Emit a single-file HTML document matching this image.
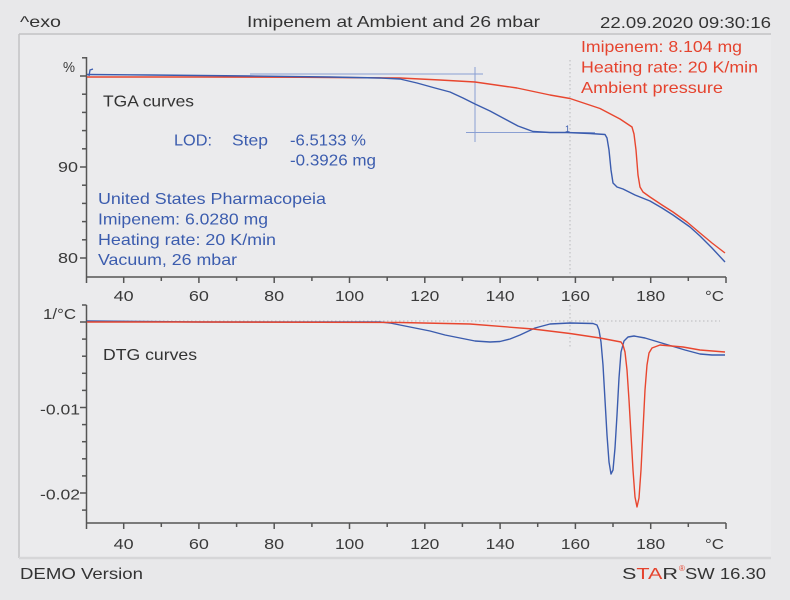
<!DOCTYPE html>
<html><head><meta charset="utf-8"><style>
html,body{margin:0;padding:0;background:#e8e8ea;}
svg{display:block;}
text{font-family:"Liberation Sans",Arial,sans-serif;}
</style></head><body>
<svg width="790" height="600" viewBox="0 0 790 600" xmlns="http://www.w3.org/2000/svg">
<rect x="0" y="0" width="790" height="600" fill="#e8e8ea"/>
<rect x="19" y="34" width="752" height="524" fill="#ebebed"/>
<!-- frame -->
<line x1="19" y1="34" x2="771" y2="34" stroke="#c2c2c4" stroke-width="1.5"/>
<line x1="19" y1="34" x2="19" y2="558" stroke="#c2c2c4" stroke-width="1.5"/>
<line x1="19" y1="558" x2="771" y2="558" stroke="#d6d6d8" stroke-width="2.5"/>

<!-- header -->
<g fill="#333" font-size="16">
<text x="20" y="27" textLength="41" lengthAdjust="spacingAndGlyphs">^exo</text>
<text x="247" y="27" textLength="293" lengthAdjust="spacingAndGlyphs">Imipenem at Ambient and 26 mbar</text>
<text x="600" y="28" textLength="171" lengthAdjust="spacingAndGlyphs">22.09.2020 09:30:16</text>
<text x="20" y="579" textLength="123" lengthAdjust="spacingAndGlyphs">DEMO Version</text>
</g>
<g font-size="16">
<text x="622" y="579" fill="#333" textLength="56" lengthAdjust="spacingAndGlyphs"><tspan>S</tspan><tspan fill="#e5432e">TA</tspan><tspan>R</tspan></text>
<text x="679" y="571" fill="#e5432e" font-size="8">®</text>
<text x="685" y="579" fill="#333" textLength="81" lengthAdjust="spacingAndGlyphs">SW 16.30</text>
</g>

<!-- ===== TGA axes ===== -->
<g stroke="#555" stroke-width="1.5" fill="none">
<line x1="86.5" y1="57" x2="86.5" y2="283"/>
<line x1="86.5" y1="277" x2="726" y2="277"/>
<line x1="82" y1="57.8" x2="86.5" y2="57.8"/>
<line x1="80" y1="76" x2="86.5" y2="76"/>
<line x1="82" y1="94.2" x2="86.5" y2="94.2"/>
<line x1="82" y1="112.4" x2="86.5" y2="112.4"/>
<line x1="82" y1="130.6" x2="86.5" y2="130.6"/>
<line x1="82" y1="148.8" x2="86.5" y2="148.8"/>
<line x1="80" y1="167" x2="86.5" y2="167"/>
<line x1="82" y1="185.2" x2="86.5" y2="185.2"/>
<line x1="82" y1="203.4" x2="86.5" y2="203.4"/>
<line x1="82" y1="221.6" x2="86.5" y2="221.6"/>
<line x1="82" y1="239.8" x2="86.5" y2="239.8"/>
<line x1="80" y1="258" x2="86.5" y2="258"/>
<line x1="123.7" y1="277" x2="123.7" y2="283"/>
<line x1="161.3" y1="277" x2="161.3" y2="281"/>
<line x1="198.9" y1="277" x2="198.9" y2="283"/>
<line x1="236.6" y1="277" x2="236.6" y2="281"/>
<line x1="274.2" y1="277" x2="274.2" y2="283"/>
<line x1="311.9" y1="277" x2="311.9" y2="281"/>
<line x1="349.5" y1="277" x2="349.5" y2="283"/>
<line x1="387.2" y1="277" x2="387.2" y2="281"/>
<line x1="424.8" y1="277" x2="424.8" y2="283"/>
<line x1="462.4" y1="277" x2="462.4" y2="281"/>
<line x1="500.1" y1="277" x2="500.1" y2="283"/>
<line x1="537.7" y1="277" x2="537.7" y2="281"/>
<line x1="575.4" y1="277" x2="575.4" y2="283"/>
<line x1="613" y1="277" x2="613" y2="281"/>
<line x1="650.7" y1="277" x2="650.7" y2="283"/>
<line x1="688.3" y1="277" x2="688.3" y2="281"/>
<line x1="726" y1="277" x2="726" y2="283"/>
</g>
<g fill="#3a3a3a" font-size="15">
<text x="63" y="72" textLength="12" lengthAdjust="spacingAndGlyphs">%</text>
<text x="78" y="172" text-anchor="end" textLength="20" lengthAdjust="spacingAndGlyphs">90</text>
<text x="78" y="263" text-anchor="end" textLength="20" lengthAdjust="spacingAndGlyphs">80</text>
<text x="113.7" y="301" textLength="20" lengthAdjust="spacingAndGlyphs">40</text>
<text x="188.9" y="301" textLength="20" lengthAdjust="spacingAndGlyphs">60</text>
<text x="264.2" y="301" textLength="20" lengthAdjust="spacingAndGlyphs">80</text>
<text x="335" y="301" textLength="29" lengthAdjust="spacingAndGlyphs">100</text>
<text x="410.3" y="301" textLength="29" lengthAdjust="spacingAndGlyphs">120</text>
<text x="485.6" y="301" textLength="29" lengthAdjust="spacingAndGlyphs">140</text>
<text x="560.9" y="301" textLength="29" lengthAdjust="spacingAndGlyphs">160</text>
<text x="636.2" y="301" textLength="29" lengthAdjust="spacingAndGlyphs">180</text>
<text x="705" y="301" textLength="19" lengthAdjust="spacingAndGlyphs">°C</text>
</g>
<text x="103" y="106.5" fill="#333" font-size="16" textLength="91" lengthAdjust="spacingAndGlyphs">TGA curves</text>

<!-- TGA dotted + LOD construction -->
<line x1="570" y1="60" x2="570" y2="276" stroke="#b8b8bc" stroke-width="1" stroke-dasharray="1.5,2.5"/>
<g stroke="#8a9fd2" stroke-width="1" fill="none">
<line x1="250" y1="74" x2="483" y2="74"/>
<line x1="475" y1="67" x2="475" y2="142"/>
<line x1="466" y1="132.5" x2="595" y2="132.5"/>
</g>
<text x="565" y="132" fill="#3b5cae" font-size="9">1</text>

<!-- TGA curves -->
<polyline fill="none" stroke="#e8462f" stroke-width="1.4" stroke-linejoin="round" points="87,77 200,77 300,77.3 400,78 440,80 475,82 517,88 550,95 570,98.5 600,108.5 620,119 632,127 634,134 636,150 638,175 640,187 643,192 650,197 662,205 673,212 687,222 700,233 712,243 725,253"/>
<polyline fill="none" stroke="#3b5cae" stroke-width="1.4" stroke-linejoin="round" points="87,74.5 150,75 250,76 330,77 380,78 400,79 417,83 435,88 450,92 463,98 475,104 490,111 503,118 518,126 533,131.5 550,132.5 567,132.5 590,133.5 605,134.5 607,138 609,150 611,170 613,183 617,187 623,189 635,195 650,201 662,208 673,215 690,227 700,236 712,248 725,262"/>
<path d="M89,76 L90,70 L93,69" fill="none" stroke="#3b5cae" stroke-width="1.3"/>

<!-- annotations -->
<g fill="#e5432e" font-size="16">
<text x="581" y="52" textLength="161" lengthAdjust="spacingAndGlyphs">Imipenem: 8.104 mg</text>
<text x="581" y="72.5" textLength="177" lengthAdjust="spacingAndGlyphs">Heating rate: 20 K/min</text>
<text x="581" y="93" textLength="142" lengthAdjust="spacingAndGlyphs">Ambient pressure</text>
</g>
<g fill="#3b5cae" font-size="16">
<text x="174" y="145.5" textLength="38" lengthAdjust="spacingAndGlyphs">LOD:</text>
<text x="232" y="145.5" textLength="36" lengthAdjust="spacingAndGlyphs">Step</text>
<text x="290" y="145.5" textLength="76" lengthAdjust="spacingAndGlyphs">-6.5133 %</text>
<text x="290" y="165.5" textLength="86" lengthAdjust="spacingAndGlyphs">-0.3926 mg</text>
<text x="98" y="204" textLength="228" lengthAdjust="spacingAndGlyphs">United States Pharmacopeia</text>
<text x="98" y="224.5" textLength="170" lengthAdjust="spacingAndGlyphs">Imipenem: 6.0280 mg</text>
<text x="98" y="245" textLength="178" lengthAdjust="spacingAndGlyphs">Heating rate: 20 K/min</text>
<text x="98" y="265" textLength="139" lengthAdjust="spacingAndGlyphs">Vacuum, 26 mbar</text>
</g>

<!-- ===== DTG axes ===== -->
<g stroke="#555" stroke-width="1.5" fill="none">
<line x1="86.5" y1="305" x2="86.5" y2="529"/>
<line x1="86.5" y1="523" x2="726" y2="523"/>
<line x1="82" y1="305" x2="86.5" y2="305"/>
<line x1="80" y1="322" x2="86.5" y2="322"/>
<line x1="82" y1="339.1" x2="86.5" y2="339.1"/>
<line x1="82" y1="356.2" x2="86.5" y2="356.2"/>
<line x1="82" y1="373.3" x2="86.5" y2="373.3"/>
<line x1="82" y1="390.4" x2="86.5" y2="390.4"/>
<line x1="80" y1="407.5" x2="86.5" y2="407.5"/>
<line x1="82" y1="424.6" x2="86.5" y2="424.6"/>
<line x1="82" y1="441.7" x2="86.5" y2="441.7"/>
<line x1="82" y1="458.8" x2="86.5" y2="458.8"/>
<line x1="82" y1="475.9" x2="86.5" y2="475.9"/>
<line x1="80" y1="493" x2="86.5" y2="493"/>
<line x1="82" y1="510.1" x2="86.5" y2="510.1"/>
<line x1="123.7" y1="523" x2="123.7" y2="529"/>
<line x1="161.3" y1="523" x2="161.3" y2="527"/>
<line x1="198.9" y1="523" x2="198.9" y2="529"/>
<line x1="236.6" y1="523" x2="236.6" y2="527"/>
<line x1="274.2" y1="523" x2="274.2" y2="529"/>
<line x1="311.9" y1="523" x2="311.9" y2="527"/>
<line x1="349.5" y1="523" x2="349.5" y2="529"/>
<line x1="387.2" y1="523" x2="387.2" y2="527"/>
<line x1="424.8" y1="523" x2="424.8" y2="529"/>
<line x1="462.4" y1="523" x2="462.4" y2="527"/>
<line x1="500.1" y1="523" x2="500.1" y2="529"/>
<line x1="537.7" y1="523" x2="537.7" y2="527"/>
<line x1="575.4" y1="523" x2="575.4" y2="529"/>
<line x1="613" y1="523" x2="613" y2="527"/>
<line x1="650.7" y1="523" x2="650.7" y2="529"/>
<line x1="688.3" y1="523" x2="688.3" y2="527"/>
<line x1="726" y1="523" x2="726" y2="529"/>
</g>
<g fill="#3a3a3a" font-size="15">
<text x="76" y="319" text-anchor="end" textLength="33" lengthAdjust="spacingAndGlyphs">1/°C</text>
<text x="80" y="414.5" text-anchor="end" textLength="40" lengthAdjust="spacingAndGlyphs">-0.01</text>
<text x="80" y="499.5" text-anchor="end" textLength="40" lengthAdjust="spacingAndGlyphs">-0.02</text>
<text x="113.7" y="549" textLength="20" lengthAdjust="spacingAndGlyphs">40</text>
<text x="188.9" y="549" textLength="20" lengthAdjust="spacingAndGlyphs">60</text>
<text x="264.2" y="549" textLength="20" lengthAdjust="spacingAndGlyphs">80</text>
<text x="335" y="549" textLength="29" lengthAdjust="spacingAndGlyphs">100</text>
<text x="410.3" y="549" textLength="29" lengthAdjust="spacingAndGlyphs">120</text>
<text x="485.6" y="549" textLength="29" lengthAdjust="spacingAndGlyphs">140</text>
<text x="560.9" y="549" textLength="29" lengthAdjust="spacingAndGlyphs">160</text>
<text x="636.2" y="549" textLength="29" lengthAdjust="spacingAndGlyphs">180</text>
<text x="705" y="549" textLength="19" lengthAdjust="spacingAndGlyphs">°C</text>
</g>
<text x="103" y="360" fill="#333" font-size="16" textLength="94" lengthAdjust="spacingAndGlyphs">DTG curves</text>

<!-- DTG dotted -->
<g stroke="#b8b8bc" stroke-width="1" stroke-dasharray="1.5,2.5" fill="none">
<line x1="87" y1="321" x2="720" y2="321"/>
<line x1="570" y1="305" x2="570" y2="347"/>
</g>

<!-- DTG curves -->
<polyline fill="none" stroke="#3b5cae" stroke-width="1.4" stroke-linejoin="round" points="87,321 200,322 380,322 390,323 400,325 415,328 430,331 445,335 460,338 475,341 490,342 500,341.5 510,339 520,335 535,328 550,324 570,323 593,323.5 597,325 599,330 601,342 603,365 605,400 607,435 609,462 611,474 613,470 615,448 617,415 619,378 621,352 624,341 628,337 634,336 645,338 665,344 685,350 700,354 712,355 725,355"/>
<polyline fill="none" stroke="#e8462f" stroke-width="1.4" stroke-linejoin="round" points="87,322 200,322 400,322.5 470,324 533,329 570,333.5 600,338 621,342 623,345 625,352 627,370 629,400 631,435 633,470 635,497 637,507 639,498 641,470 643,430 645,390 647,365 649,353 652,348 660,345 683,347 700,350 725,352"/>
</svg>
</body></html>
